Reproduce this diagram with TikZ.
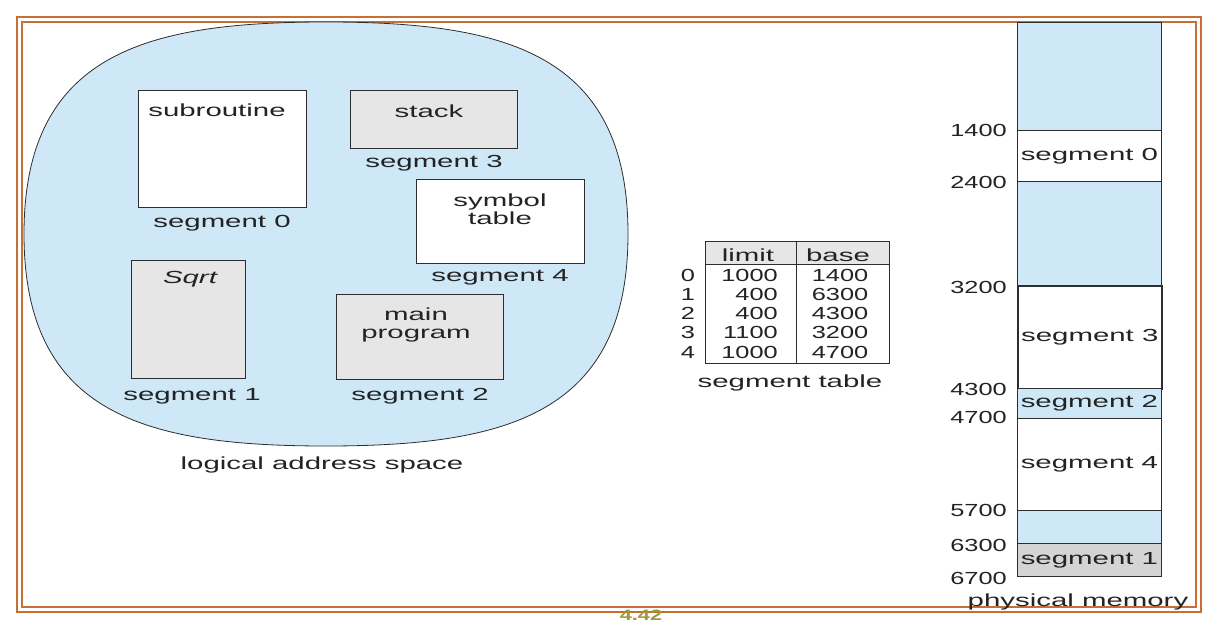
\documentclass[tikz,border=0pt]{standalone}
\usepackage{fontspec}
\setmainfont{Liberation Sans}[FakeStretch=1.68]
\newfontfamily\numfont{Liberation Sans}[FakeStretch=1.45]
\definecolor{frameor}{RGB}{200,112,52}
\definecolor{lblue}{RGB}{207,232,247}
\definecolor{sgray}{RGB}{230,230,230}
\definecolor{dgray}{RGB}{212,212,212}
\definecolor{olivetxt}{RGB}{156,154,60}
\definecolor{edge}{RGB}{45,45,45}
\definecolor{ink}{RGB}{35,35,35}
\begin{document}
\begin{tikzpicture}[x=1pt,y=-1pt,
  txt/.style={font=\fontsize{17.5}{18}\selectfont, text=ink, inner sep=0pt, align=center, yshift=-2pt},
  itxt/.style={font=\fontsize{17.5}{18}\selectfont\itshape, text=ink, inner sep=0pt},
  num/.style={font=\numfont\fontsize{17.5}{18}\selectfont, text=ink, inner sep=0pt},
  box/.style={draw=edge, line width=0.8pt, inner sep=0pt, anchor=north west},
  mem/.style={draw=edge, line width=0.8pt, inner sep=0pt, minimum width=144pt, anchor=north west,
     font=\fontsize{17.5}{18}\selectfont, text=ink}]
\useasboundingbox (0,0) rectangle (1220,634);
\fill[white] (0,0) rectangle (1220,634);
% frame
\draw[frameor, line width=2pt] (17,17) rectangle (1201,612);
\draw[frameor, line width=2pt] (22,22) rectangle (1196,607);
% logical address space blob
\draw[edge, fill=lblue, line width=0.8pt]
  (24,234) .. controls (24,54) and (145,22) .. (326,22)
  .. controls (507,22) and (628,54) .. (628,234)
  .. controls (628,414) and (507,446) .. (326,446)
  .. controls (145,446) and (24,414) .. (24,234) -- cycle;
% segments in logical space
\node[box, fill=white, minimum width=168pt, minimum height=117pt] (sub) at (138,90) {};
\node[txt] (subt) at (217,108) {subroutine};
\node[txt] (subl) at (222,221) {segment 0};
\node[box, fill=sgray, minimum width=167pt, minimum height=58pt] (stk) at (350,90) {};
\node[txt] (stkt) at (429,109) {stack};
\node[txt] (stkl) at (434,161) {segment 3};
\node[box, fill=white, minimum width=168pt, minimum height=84pt] (sym) at (416,179) {};
\node[txt] (symt) at (500,207) {symbol\\table};
\node[txt] (syml) at (500,275) {segment 4};
\node[box, fill=sgray, minimum width=114pt, minimum height=118pt] (sqr) at (131,260) {};
\node[itxt] (sqrt) at (190,279) {Sqrt};
\node[txt] (sqrl) at (192,394) {segment 1};
\node[box, fill=sgray, minimum width=167pt, minimum height=85pt] (mp) at (336,294) {};
\node[txt] (mpt) at (416,323) {main\\program};
\node[txt] (mpl) at (420,394) {segment 2};
\node[txt] (las) at (322,463) {logical address space};
% segment table
\node[box, fill=sgray, minimum width=184pt, minimum height=23pt] (hdr) at (705,241) {};
\node[box, minimum width=184pt, minimum height=99pt] (body) at (705,264) {};
\draw[edge, line width=0.8pt] (796,241) -- (796,363);
\node[txt] (hlim) at (748,253) {limit};
\node[txt] (hbas) at (838,253) {base};
\foreach \i/\l/\b/\y in {0/1000/1400/275, 1/400/6300/294, 2/400/4300/313, 3/1100/3200/332, 4/1000/4700/352}{
  \node[num] (idx\i) at (688,\y) {\i};
  \node[num, anchor=east] (lim\i) at (778,\y) {\l};
  \node[num] (bas\i) at (840,\y) {\b};
}
\node[txt] (stl) at (790,381) {segment table};
% physical memory
\node[mem, fill=lblue, minimum height=108pt] (f1) at (1017,22) {};
\node[mem, fill=white, minimum height=51pt] (m0) at (1017,130) {segment 0};
\node[mem, fill=lblue, minimum height=104pt] (f2) at (1017,181) {};
\node[mem, fill=white, minimum height=103pt, line width=1.6pt] (m3) at (1017,285) {segment 3};
\node[mem, fill=lblue, minimum height=30pt] (m2) at (1017,388) {segment 2};
\node[mem, fill=white, minimum height=92pt] (m4) at (1017,418) {segment 4};
\node[mem, fill=lblue, minimum height=33pt] (f3) at (1017,510) {};
\node[mem, fill=dgray, minimum height=33pt] (m1) at (1017,543) {segment 1};
\foreach \v/\y in {1400/130, 2400/182, 3200/287, 4300/389, 4700/417, 5700/510, 6300/545, 6700/578}{
  \node[num, anchor=east] (a\v) at (1007,\y) {\v};
}
\node[txt] (pml) at (1078,600) {physical memory};
% page number
\node[font=\numfont\fontsize{15}{15}\selectfont\bfseries, text=olivetxt, inner sep=0pt] (pg) at (641,615) {4.42};
\end{tikzpicture}
\end{document}
